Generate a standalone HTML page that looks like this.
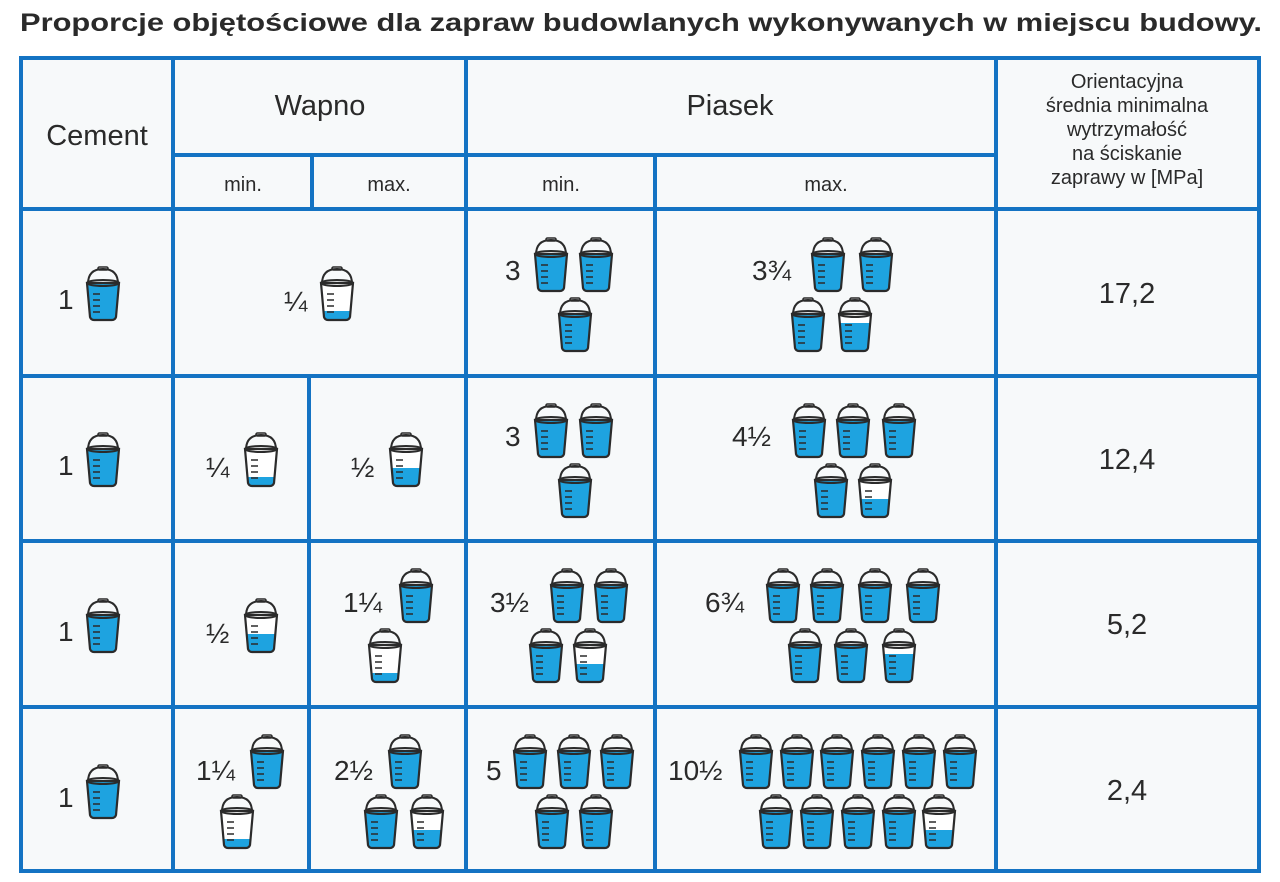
<!DOCTYPE html>
<html><head><meta charset="utf-8"><style>
html,body{margin:0;padding:0;background:#fff}
svg{display:block}
text{font-family:"Liberation Sans",sans-serif;fill:#2a2a2a}
</style></head><body>
<svg width="1280" height="882" viewBox="0 0 1280 882" xmlns="http://www.w3.org/2000/svg">
<defs>
<clipPath id="bc"><path d="M3,18 L35,18 L32,52 Q31,55 28,55 L10,55 Q7,55 6,52 Z"/></clipPath>
<g id="bk">
<path d="M4,19 Q4,4 19,4 Q34,4 34,19" fill="none" stroke="#2b2b2b" stroke-width="2"/>
<rect x="14" y="2" width="10" height="3" rx="1.5" fill="none" stroke="#2b2b2b" stroke-width="1.6"/>
<path d="M3,18 L35,18 L32,52 Q31,55 28,55 L10,55 Q7,55 6,52 Z" fill="#fff"/>
</g>
<g id="bo">
<path d="M3,18 L35,18 L32,52 Q31,55 28,55 L10,55 Q7,55 6,52 Z" fill="none" stroke="#2b2b2b" stroke-width="2.2"/>
<ellipse cx="19" cy="18" rx="16" ry="3" fill="none" stroke="#2b2b2b" stroke-width="2"/>
<path d="M9,29h7M9,35h7M9,41h7M9,47h7" stroke="#2b2b2b" stroke-width="1.6"/>
</g>
<g id="full"><use href="#bk"/><rect x="0" y="19" width="40" height="40" fill="#1ea3e0" clip-path="url(#bc)"/><use href="#bo"/></g>
<g id="tq"><use href="#bk"/><rect x="0" y="27" width="40" height="40" fill="#1ea3e0" clip-path="url(#bc)"/><use href="#bo"/></g>
<g id="half"><use href="#bk"/><rect x="0" y="37" width="40" height="40" fill="#1ea3e0" clip-path="url(#bc)"/><use href="#bo"/></g>
<g id="qt"><use href="#bk"/><rect x="0" y="46" width="40" height="40" fill="#1ea3e0" clip-path="url(#bc)"/><use href="#bo"/></g>
</defs>
<rect width="1280" height="882" fill="#fff"/>
<text x="20" y="31" font-size="25" font-weight="bold" fill="#2a2a2a" textLength="1242" lengthAdjust="spacingAndGlyphs">Proporcje objętościowe dla zapraw budowlanych wykonywanych w miejscu budowy.</text>
<rect x="21" y="58" width="1238" height="813" fill="#f7f9fa"/>
<g stroke="#1473c3" stroke-width="4" fill="none">
<rect x="21" y="58" width="1238" height="813"/>
<path d="M173,58V871M466,58V871M996,58V871"/>
<path d="M173,155H996M21,209H1259M21,376H1259M21,541H1259M21,707H1259"/>
<path d="M312,155V209M655,155V871M309,376V871"/>
</g>
<text x="97" y="145" text-anchor="middle" font-size="29">Cement</text>
<text x="320" y="115" text-anchor="middle" font-size="29">Wapno</text>
<text x="730" y="115" text-anchor="middle" font-size="29">Piasek</text>
<text x="243" y="191" text-anchor="middle" font-size="20">min.</text>
<text x="389" y="191" text-anchor="middle" font-size="20">max.</text>
<text x="561" y="191" text-anchor="middle" font-size="20">min.</text>
<text x="826" y="191" text-anchor="middle" font-size="20">max.</text>
<g font-size="20" text-anchor="middle">
<text x="1127" y="88">Orientacyjna</text>
<text x="1127" y="112">średnia minimalna</text>
<text x="1127" y="136">wytrzymałość</text>
<text x="1127" y="160">na ściskanie</text>
<text x="1127" y="184">zaprawy w [MPa]</text>
</g>
<g font-size="29" text-anchor="middle">
<text x="1127" y="303">17,2</text><text x="1127" y="469">12,4</text><text x="1127" y="634">5,2</text><text x="1127" y="800">2,4</text>
</g>
<g font-size="28">
<text x="58" y="309">1</text><text x="58" y="475">1</text><text x="58" y="641">1</text><text x="58" y="807">1</text>
<text x="284" y="311">¼</text>
<text x="505" y="280">3</text><text x="752" y="280">3¾</text>
<text x="206" y="477">¼</text><text x="351" y="477">½</text>
<text x="505" y="446">3</text><text x="732" y="446">4½</text>
<text x="206" y="643">½</text><text x="343" y="612">1¼</text>
<text x="490" y="612">3½</text><text x="705" y="612">6¾</text>
<text x="196" y="780">1¼</text><text x="334" y="780">2½</text>
<text x="486" y="780">5</text><text x="668" y="780">10½</text>
</g>
<use href="#full" x="84" y="265"/>
<use href="#qt" x="318" y="265"/>
<use href="#full" x="532" y="236"/><use href="#full" x="577" y="236"/><use href="#full" x="556" y="296"/>
<use href="#full" x="809" y="236"/><use href="#full" x="857" y="236"/><use href="#full" x="789" y="296"/><use href="#tq" x="836" y="296"/>
<use href="#full" x="84" y="431"/>
<use href="#qt" x="242" y="431"/><use href="#half" x="387" y="431"/>
<use href="#full" x="532" y="402"/><use href="#full" x="577" y="402"/><use href="#full" x="556" y="462"/>
<use href="#full" x="790" y="402"/><use href="#full" x="834" y="402"/><use href="#full" x="880" y="402"/><use href="#full" x="812" y="462"/><use href="#half" x="856" y="462"/>
<use href="#full" x="84" y="597"/>
<use href="#half" x="242" y="597"/>
<use href="#full" x="397" y="567"/><use href="#qt" x="366" y="627"/>
<use href="#full" x="548" y="567"/><use href="#full" x="592" y="567"/><use href="#full" x="527" y="627"/><use href="#half" x="571" y="627"/>
<use href="#full" x="764" y="567"/><use href="#full" x="808" y="567"/><use href="#full" x="856" y="567"/><use href="#full" x="904" y="567"/><use href="#full" x="786" y="627"/><use href="#full" x="832" y="627"/><use href="#tq" x="880" y="627"/>
<use href="#full" x="84" y="763"/>
<use href="#full" x="248" y="733"/><use href="#qt" x="218" y="793"/>
<use href="#full" x="386" y="733"/><use href="#full" x="362" y="793"/><use href="#half" x="408" y="793"/>
<use href="#full" x="511" y="733"/><use href="#full" x="555" y="733"/><use href="#full" x="598" y="733"/><use href="#full" x="533" y="793"/><use href="#full" x="577" y="793"/>
<use href="#full" x="737" y="733"/><use href="#full" x="778" y="733"/><use href="#full" x="818" y="733"/><use href="#full" x="859" y="733"/><use href="#full" x="900" y="733"/><use href="#full" x="941" y="733"/>
<use href="#full" x="757" y="793"/><use href="#full" x="798" y="793"/><use href="#full" x="839" y="793"/><use href="#full" x="880" y="793"/><use href="#half" x="920" y="793"/>
</svg>
</body></html>
